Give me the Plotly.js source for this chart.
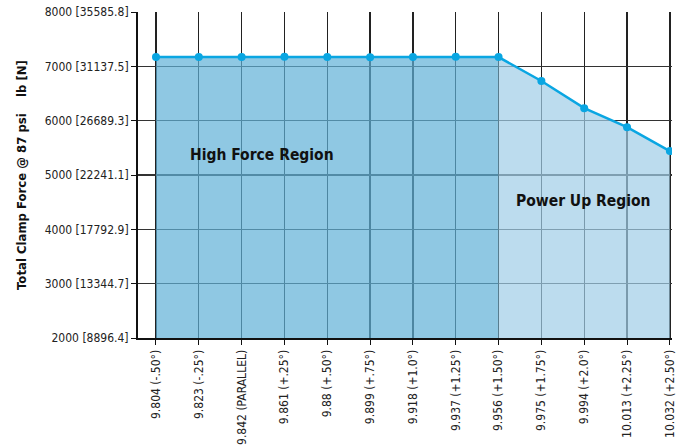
<!DOCTYPE html>
<html>
<head>
<meta charset="utf-8">
<script src="https://cdn.plot.ly/plotly-3.0.1.min.js"></script>
<style>html,body{margin:0;padding:0;background:#fff;}#chart{width:681px;height:446px;}</style>
</head>
<body>
<div id="chart"></div>
<script>
var categories = ["9.804 (-.50°)","9.823 (-.25°)","9.842 (PARALLEL)","9.861 (+.25°)","9.88 (+.50°)","9.899 (+.75°)","9.918 (+1.0°)","9.937 (+1.25°)","9.956 (+1.50°)","9.975 (+1.75°)","9.994 (+2.0°)","10.013 (+2.25°)","10.032 (+2.50°)"];
var clampForce = [7170, 7170, 7170, 7175, 7170, 7165, 7170, 7175, 7170, 6730, 6230, 5880, 5440];
var highForceCount = 9;
var yTickVals = [2000, 3000, 4000, 5000, 6000, 7000, 8000];
var yTickText = ["2000 [8896.4]","3000 [13344.7]","4000 [17792.9]","5000 [22241.1]","6000 [26689.3]","7000 [31137.5]","8000 [35585.8]"];

var font = "'DejaVu Sans Condensed', 'Liberation Sans Narrow', sans-serif";

var traces = [
  {x: categories.slice(0, highForceCount), y: clampForce.slice(0, highForceCount), type: 'scatter', mode: 'lines',
   line: {width: 0}, fill: 'tozeroy', fillcolor: 'rgba(95,176,215,0.7)', hoverinfo: 'skip', showlegend: false},
  {x: categories.slice(highForceCount - 1), y: clampForce.slice(highForceCount - 1), type: 'scatter', mode: 'lines',
   line: {width: 0}, fill: 'tozeroy', fillcolor: 'rgba(159,205,231,0.7)', hoverinfo: 'skip', showlegend: false},
  {x: categories, y: clampForce, type: 'scatter', mode: 'lines+markers',
   line: {color: '#0aa6e2', width: 2.5}, marker: {color: '#0aa6e2', size: 8}, showlegend: false}
];

var layout = {
  width: 681, height: 446,
  margin: {l: 138, r: 9, t: 12, b: 108},
  paper_bgcolor: '#fff', plot_bgcolor: '#fff',
  font: {family: font, size: 12, color: '#222'},
  xaxis: {
    type: 'category', range: [-0.42, 12.05], tickangle: -90,
    showgrid: true, gridcolor: '#222', gridwidth: 1.3,
    showline: true, linecolor: '#111', linewidth: 2,
    ticks: 'outside', ticklen: 5, tickcolor: '#111',
    tickfont: {family: font, size: 12, color: '#222'}, zeroline: false
  },
  yaxis: {
    range: [2000, 8000], tickvals: yTickVals, ticktext: yTickText,
    showgrid: true, gridcolor: '#333', gridwidth: 1.3,
    showline: true, linecolor: '#111', linewidth: 2,
    ticks: 'outside', ticklen: 5, tickcolor: '#111',
    tickfont: {family: font, size: 12, color: '#222'}, zeroline: false,
    title: {text: 'Total Clamp Force @ 87 psi    lb [N]', font: {family: font, size: 13, color: '#111', weight: 'bold'}, standoff: 15}
  },
  annotations: [
    {xref: 'paper', yref: 'paper', x: 0.232, y: 0.562, xanchor: 'center', yanchor: 'middle', text: '<b>High Force Region</b>', showarrow: false,
     font: {family: font, size: 15.5, color: '#111'}},
    {xref: 'paper', yref: 'paper', x: 0.834, y: 0.42, xanchor: 'center', yanchor: 'middle', text: '<b>Power Up Region</b>', showarrow: false,
     font: {family: font, size: 15.5, color: '#111'}}
  ]
};

Plotly.newPlot('chart', traces, layout, {displayModeBar: false, staticPlot: true});
</script>
</body>
</html>
